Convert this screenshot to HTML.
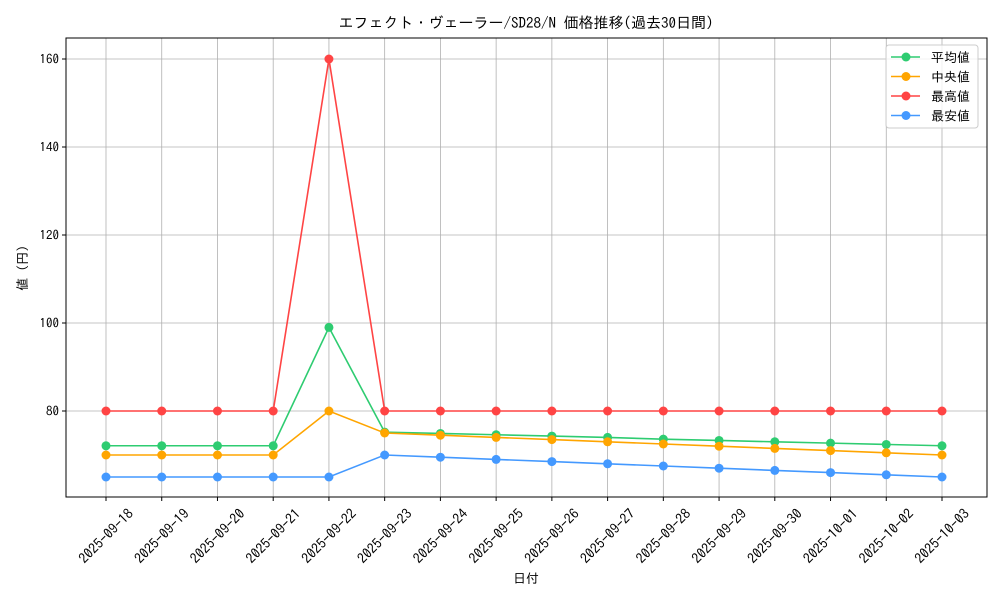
<!DOCTYPE html>
<html><head><meta charset="utf-8"><style>
body{margin:0;background:#fff}
svg{font-family:"IPAGothic","Liberation Sans","Noto Sans CJK JP",sans-serif}
</style></head><body>
<svg id="c" width="1000" height="600" viewBox="0 0 1000 600" xmlns="http://www.w3.org/2000/svg">
<rect width="1000" height="600" fill="#fff"/>
<text x="526" y="28" font-size="15" text-anchor="middle">エフェクト・ヴェーラー/SD28/N 価格推移(過去30日間)</text>
<g id="grid"></g><g id="axes"></g><g id="series"></g>
<text x="526" y="583" font-size="13" text-anchor="middle">日付</text>
<text transform="translate(27,268) rotate(-90)" font-size="13" text-anchor="middle">値 (円)</text>
<g id="legend"></g>
</svg>
<script>
const categories=["2025-09-18","2025-09-19","2025-09-20","2025-09-21","2025-09-22","2025-09-23","2025-09-24","2025-09-25","2025-09-26","2025-09-27","2025-09-28","2025-09-29","2025-09-30","2025-10-01","2025-10-02","2025-10-03"];
const avgValues=[72.1,72.1,72.1,72.1,99,75.2,74.9,74.6,74.3,74.0,73.6,73.3,73.0,72.7,72.4,72.1];
const medValues=[70,70,70,70,80,75,74.5,74,73.5,73,72.5,72,71.5,71,70.5,70];
const maxValues=[80,80,80,80,160,80,80,80,80,80,80,80,80,80,80,80];
const minValues=[65,65,65,65,65,70,69.5,69,68.5,68,67.5,67,66.5,66,65.5,65];
const yTicks=[80,100,120,140,160];
const seriesNames=["平均値"," 中央値","最高値","最安値"];
const NS="http://www.w3.org/2000/svg";
const L=66,R=987,T=38,B=497;
const xs=i=>106+i*(942-106)/(categories.length-1);
const ys=v=>411-(v-80)*4.4;
function el(tag,attrs,parent,txt){const e=document.createElementNS(NS,tag);for(const k in attrs)e.setAttribute(k,attrs[k]);if(txt!==undefined)e.textContent=txt;parent.appendChild(e);return e;}
const grid=document.getElementById('grid'),axes=document.getElementById('axes'),ser=document.getElementById('series'),leg=document.getElementById('legend');
categories.forEach((c,i)=>{
 const g=el('line',{x1:xs(i),x2:xs(i),y1:T,y2:B,stroke:'#b0b0b0','stroke-width':0.8},grid);
 
 
 const t=el('line',{x1:xs(i),x2:xs(i),y1:B,y2:B+4,stroke:'#000'},axes);
 
 
 const lb=el('text',{x:0,y:0,dy:'0.35em','font-size':14,'text-anchor':'middle',transform:`translate(${xs(i)},${B+39}) rotate(-45)`},axes,c);
 
 
});
yTicks.forEach(v=>{
 const g=el('line',{x1:L,x2:R,y1:ys(v),y2:ys(v),stroke:'#b0b0b0','stroke-width':0.8},grid);
 
 
 const t=el('line',{x1:L-4,x2:L,y1:ys(v),y2:ys(v),stroke:'#000'},axes);
 
 
 const lb=el('text',{x:L-7,y:ys(v)+4.5,'font-size':13,'text-anchor':'end'},axes,String(v));
 
 
});
const fr=el('rect',{x:L,y:T,width:R-L,height:B-T,fill:'none',stroke:'#000','stroke-width':1},axes);


const all=[[avgValues,'#2ecc71'],[medValues,'#ffa500'],[maxValues,'#ff4444'],[minValues,'#4499ff']];
const keys=['avg','median','max','min'];
all.forEach(([vals,col],k)=>{
 const g=el('g',{},ser);
 
 
 const p=el('polyline',{points:vals.map((v,i)=>xs(i)+','+ys(v)).join(' '),fill:'none',stroke:col,'stroke-width':1.6},g);
 
 
 vals.forEach((v,i)=>{const c=el('circle',{cx:xs(i),cy:ys(v),r:4.5,fill:col},g);
  
  });
});
const lb=el('rect',{x:886,y:45,width:92,height:83,rx:3,fill:'#fff','fill-opacity':0.8,stroke:'#ccc'},leg);


all.forEach(([v,col],k)=>{
 const y=57+k*19.5;
 const g=el('g',{},leg);
 
 
 el('line',{x1:891,x2:920,y1:y,y2:y,stroke:col,'stroke-width':1.6},g);
 el('circle',{cx:906,cy:y,r:4.5,fill:col},g);
 el('text',{x:931,y:y+5,'font-size':13,'xml:space':'preserve'},g,seriesNames[k]);
});
</script>
</body></html>
